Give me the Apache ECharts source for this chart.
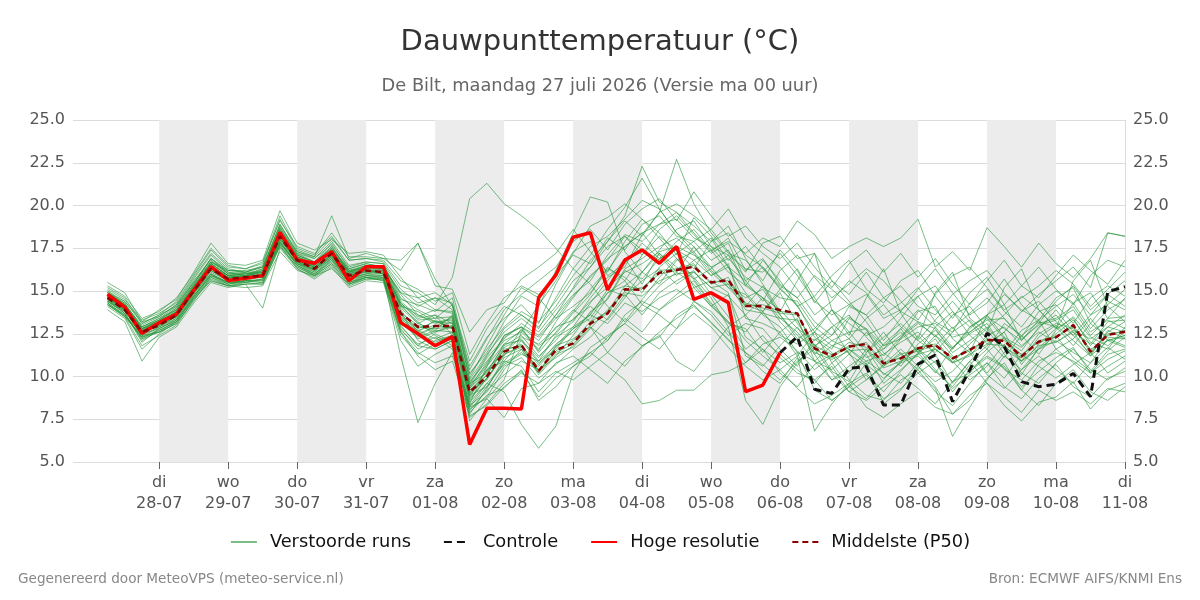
<!DOCTYPE html>
<html>
<head>
<meta charset="utf-8">
<title>Dauwpunttemperatuur</title>
<script src="https://cdn.jsdelivr.net/npm/echarts@6/dist/echarts.min.js"></script>
<style>
  html, body { margin: 0; padding: 0; background: #fff; }
  #chart { width: 1200px; height: 600px; }
</style>
</head>
<body>
<div id="chart"></div>
<script>
// uren na ma 27-07 00:00, elke 6 uur vanaf 06:00 t/m 11-08 00:00
const firstHour = 6
const stepHours = 6

const dayNames = ['di', 'wo', 'do', 'vr', 'za', 'zo', 'ma', 'di', 'wo', 'do', 'vr', 'za', 'zo', 'ma', 'di']
const dayDates = ['28-07', '29-07', '30-07', '31-07', '01-08', '02-08', '03-08', '04-08', '05-08', '06-08', '07-08', '08-08', '09-08', '10-08', '11-08']
const shadedDays = ['28-07', '30-07', '01-08', '03-08', '05-08', '07-08', '09-08']

const hogeResolutie = [14.8, 14.05, 12.53, 13.15, 13.65, 15.04, 16.42, 15.62, 15.75, 15.9, 18.42, 16.81, 16.62, 17.3, 15.6, 16.42, 16.42,
  13.15, 12.5, 11.8, 12.33, 6.03, 8.14, 8.14, 8.1, 14.61, 15.94, 18.14, 18.41, 15.06, 16.81, 17.4, 16.62, 17.6, 14.51, 14.9, 14.32, 9.11, 9.5, 11.39]

const controleStartHour = 240
const controle = [11.39, 12.33, 9.25, 9.01, 10.48, 10.58, 8.33, 8.33, 10.72, 11.26, 8.53, 10.38, 12.53, 11.75, 9.7, 9.4, 9.55, 10.18, 8.82, 14.96, 15.25]

const middelste = [14.6, 13.9, 12.6, 13.0, 13.6, 15.0, 16.3, 15.7, 15.8, 15.9, 18.2, 16.8, 16.3, 17.2, 15.9, 16.2, 16.1,
  13.7, 12.9, 12.95, 12.95, 9.1, 10.0, 11.45, 11.84, 10.34, 11.55, 11.94, 13.1, 13.69, 15.1, 15.06, 16.07, 16.23, 16.42,
  15.5, 15.64, 14.12, 14.12, 13.89, 13.69, 11.65, 11.2, 11.75, 11.9, 10.77, 11.06, 11.65, 11.84, 11.06, 11.55, 12.13, 12.09, 11.16, 12.04,
  12.29, 13.01, 11.45, 12.43, 12.62]

const run01 = [14.9,14.3,12.9,13.4,14.1,15.6,16.8,16.0,15.9,16.3,18.9,17.2,16.7,17.8,16.3,16.6,16.4, 14.8,13.6,13.1,13.4,8.6,9.9,11.2,12.8, 11.5,13.2,14.6,15.9,16.8,18.2,17.1,18.6,19.4,18.3, 17.2,17.8,15.6,16.4,15.1,14.2,12.3,11.6,13.4,12.8, 10.9,12.2,13.8,14.1,12.2,11.4,13.6,14.2,12.1,13.3, 14.6,15.2,13.1,14.4,13.9]
const run02 = [14.3,13.6,12.2,12.6,13.1,14.4,15.8,15.3,15.4,15.5,17.6,16.4,15.9,16.6,15.4,15.8,15.6, 12.4,11.3,11.9,12.2,7.6,8.4,9.6,10.3, 8.8,9.9,10.6,11.4,12.1,13.4,12.6,13.9,14.6,15.2, 14.1,14.8,12.3,11.6,10.8,11.4,9.2,8.6,9.4,10.1, 8.7,9.3,10.2,10.9,9.1,10.4,11.2,10.6,9.4,10.3, 11.1,11.7,10.2,11.0,11.5]
const run03 = [15.1,14.5,13.3,13.7,14.3,15.8,17.2,16.3,16.1,16.5,19.2,17.4,17.0,18.1,16.8,16.9,16.7, 15.3,14.9,14.2,15.8,20.4,21.3,20.1,19.4, 18.6,17.5,16.3,15.4,14.1,13.2,14.5,15.8,16.9,15.7, 14.3,13.2,12.6,13.8,14.9,13.1,11.8,12.4,13.5,12.7, 11.6,12.8,13.9,12.9,11.7,12.6,13.4,12.2,11.5,12.9, 13.6,12.4,11.3,12.6,13.2]
const run04 = [14.5,13.7,12.0,12.8,13.3,14.7,16.0,15.5,15.6,15.6,17.9,16.5,16.0,16.8,15.6,15.9,15.8, 11.2,7.3,9.6,11.4,8.1,8.8,10.4,11.6, 10.2,11.8,12.9,14.3,15.6,16.9,15.4,17.2,16.1,17.6, 16.4,15.2,14.1,15.3,13.6,12.4,11.7,12.9,11.3,10.6, 11.9,12.8,11.4,10.2,11.7,12.5,13.1,11.6,10.9,12.3, 13.0,12.1,11.2,12.7,12.2]
const run05 = [14.7,14.0,12.6,13.1,13.7,15.2,16.5,15.8,15.8,16.0,18.4,16.9,16.5,17.4,15.8,16.4,16.3, 13.4,12.6,12.0,12.4,7.4,8.7,9.8,12.6, 14.2,15.6,17.3,17.9,15.9,16.6,17.8,16.9,17.4,15.2, 15.6,14.9,11.2,10.6,11.8,12.9,11.3,9.8,10.2,11.6, 10.1,10.8,12.4,11.3,9.6,10.9,11.8,12.6,10.7,11.9, 12.8,13.4,11.8,12.9,13.6]
const run06 = [15.0,14.2,12.8,13.3,14.0,15.4,16.9,16.1,16.0,16.2,18.7,17.1,16.6,17.6,16.1,16.5,16.4, 14.2,13.1,12.7,13.6,9.4,10.8,12.3,12.9, 12.1,13.6,15.2,16.8,17.9,19.4,22.3,20.2,19.6,18.4, 17.3,18.1,16.2,16.9,15.4,14.6,13.2,12.4,14.1,13.6, 12.1,13.4,14.7,13.2,12.6,14.3,15.1,13.8,12.9,14.2, 15.0,14.3,12.8,13.9,14.5]
const run07 = [14.4,13.8,12.4,12.9,13.4,14.9,16.1,15.6,15.7,15.8,18.0,16.7,16.2,17.0,15.7,16.0,16.0, 13.3,12.2,12.6,12.9,9.2,10.1,11.7,12.2, 10.9,12.4,13.2,14.6,15.8,16.4,18.3,19.6,22.7,20.1, 18.4,17.2,16.8,15.6,17.4,16.2,14.3,15.6,14.4,13.2, 11.8,12.6,11.4,12.9,13.8,12.4,11.6,13.1,12.4,11.3, 12.7,13.5,12.3,11.8,12.6]
const run08 = [14.6,13.9,12.7,12.9,13.5,14.8,16.2,15.6,15.7,15.9,18.1,16.8,16.4,17.1,16.0,16.1,16.2, 13.9,12.6,13.3,12.8,8.9,9.4,10.9,10.6, 9.1,10.2,10.8,11.4,10.6,9.8,8.4,8.6,9.2,9.2, 10.1,10.3,10.8,11.9,12.3,11.5,10.4,11.2,12.0,11.7, 10.6,11.3,11.6,10.8,9.7,10.2,11.4,12.3,10.9,11.6, 12.4,11.1,10.3,11.5,12.3]
const run09 = [14.8,14.1,12.5,13.2,13.8,15.1,16.4,15.9,16.0,16.1,18.5,17.0,16.6,17.5,16.2,16.3,16.5, 14.5,14.2,13.8,14.6,10.2,11.4,13.2,14.7, 14.1,16.2,18.4,20.5,20.2,17.3,16.1,17.4,18.6,19.1, 17.6,16.4,14.2,13.8,15.1,16.3,14.6,13.1,12.2,13.4, 14.2,12.9,12.1,13.3,14.4,13.2,11.9,12.6,13.8,14.4, 13.2,12.4,13.6,14.8,14.1]
const run10 = [14.2,13.5,11.8,12.4,13.0,14.5,15.7,15.3,15.5,15.4,17.7,16.3,15.8,16.5,15.3,15.7,15.7, 12.6,11.4,10.8,11.2,8.3,9.6,9.1,7.2, 5.8,7.1,10.2,11.7,12.4,13.1,12.3,11.6,12.8,13.7, 12.9,11.7,10.6,9.8,10.4,11.2,12.6,10.8,9.4,8.7, 9.8,10.9,11.6,10.4,9.3,10.1,10.8,9.9,11.3,10.6, 9.9,10.7,11.4,10.2,10.9]
const run11 = [14.9,14.2,13.0,13.5,14.2,15.5,16.7,16.2,16.2,16.4,18.8,17.3,16.9,17.9,16.5,16.7,16.6, 14.6,13.9,13.4,14.2,9.8,11.3,12.6,13.4, 12.6,13.9,15.1,16.4,17.6,18.2,17.4,16.8,17.9,18.6, 17.4,17.9,17.2,18.1,17.6,19.1,18.3,16.9,17.6,18.1, 17.6,18.1,19.2,16.4,17.3,16.2,18.7,17.6,16.4,17.8, 16.6,15.8,16.9,18.4,18.2]
const run12 = [14.3,13.6,12.3,12.7,13.2,14.6,15.9,15.5,15.6,15.7,17.8,16.6,16.1,16.9,15.5,15.9,15.8, 12.8,11.6,12.1,12.4,8.3,9.1,10.6,11.1, 9.9,10.7,11.6,12.3,13.4,14.8,13.6,14.9,15.6,16.2, 14.8,13.5,12.1,11.2,10.4,9.3,8.4,8.9,9.6,8.2, 7.6,8.4,9.1,8.2,7.8,8.9,9.6,8.3,7.4,8.5, 8.8,9.7,8.1,9.2,9.6]
const run13 = [15.2,14.6,13.1,13.6,14.4,15.9,17.4,16.4,16.3,16.6,19.4,17.5,17.1,18.4,17.0,17.0,16.9, 16.2,17.8,15.7,14.1,10.6,12.3,13.4,14.2, 13.1,15.4,17.2,18.8,19.3,20.1,19.2,18.1,16.9,15.8, 14.6,12.9,8.6,7.2,9.4,10.8,11.9,10.3,9.7,11.4, 12.6,11.3,10.4,11.8,12.9,11.6,10.2,11.4,12.7,13.3, 11.6,12.2,13.4,12.1,11.7]
const run14 = [14.5,13.8,12.6,13.0,13.5,15.0,16.3,15.7,15.8,15.8,18.1,16.8,16.3,17.2,15.9,16.2,16.1, 13.6,12.9,12.8,12.9,9.0,10.4,11.5,11.9, 10.3,11.5,12.1,13.2,13.8,15.3,15.1,16.2,16.3,16.6, 15.4,15.8,14.1,14.2,13.8,13.7,11.6,11.1,11.8,11.9, 10.7,11.1,11.7,11.9,11.0,11.6,12.1,12.2,11.2,12.1, 12.3,13.0,11.5,12.4,12.7]
const run15 = [14.7,14.0,12.4,13.1,13.8,15.3,16.6,15.9,16.0,16.0,18.3,16.9,16.4,17.3,16.1,16.3,16.2, 13.8,12.1,11.6,12.1,7.8,9.3,11.1,11.6, 10.1,11.2,12.4,13.8,14.5,16.2,15.7,16.9,17.4,16.8, 15.9,16.6,13.4,13.1,12.6,11.2,6.8,8.4,9.6,10.2, 9.1,10.3,11.4,12.2,10.8,11.9,12.8,11.3,10.1,11.7, 12.5,13.3,12.0,11.6,12.9]
const run16 = [15.0,14.4,13.2,13.5,14.2,15.7,17.1,16.2,16.1,16.4,18.9,17.3,17.0,19.4,16.9,17.2,16.9, 16.8,17.8,15.3,15.1,12.6,13.9,14.3,15.7, 16.4,17.2,18.6,17.3,16.1,17.9,19.2,18.4,17.1,19.3, 18.2,16.8,17.6,16.3,15.2,14.1,14.7,15.9,16.8,15.1, 14.3,15.6,16.2,14.7,13.4,14.9,15.8,14.2,15.3,16.4, 15.1,14.2,15.9,16.8,16.4]
const run17 = [14.4,13.9,12.7,13.2,13.6,14.9,16.0,15.4,15.6,15.9,17.9,16.6,16.3,17.0,15.8,16.0,16.2, 14.1,13.2,12.4,11.8,8.4,10.6,12.4,12.9, 11.4,12.6,13.8,15.1,16.3,15.8,14.9,16.4,17.2,17.9, 16.8,17.4,15.3,14.6,13.2,12.1,10.9,10.4,11.3,12.6, 11.4,10.6,11.9,12.7,11.6,12.8,13.6,12.3,11.7,12.8, 13.9,12.6,11.9,13.2,13.3]
const run18 = [14.6,14.1,12.9,13.3,13.7,15.1,16.5,15.8,15.9,16.0,18.3,16.9,16.4,17.3,16.0,16.3,16.3, 14.3,13.4,13.6,13.1,9.6,10.2,11.9,12.1, 10.8,11.6,12.8,13.4,14.9,15.3,16.1,15.4,16.8,17.3, 16.1,15.2,14.8,13.6,12.9,11.4,10.9,11.8,11.4,9.8, 10.6,11.4,10.2,9.3,6.5,8.2,9.8,11.2,10.4,11.6, 12.1,11.4,10.8,12.2,11.8]
const run19 = [14.8,14.3,12.8,13.2,13.9,15.2,16.6,15.9,15.8,16.2,18.6,17.1,16.7,17.6,16.2,16.5,16.4, 14.9,14.1,14.6,14.3,9.9,11.8,13.6,15.2, 14.6,13.4,14.1,14.9,16.2,17.6,18.4,17.1,15.9,16.8, 17.4,16.1,15.3,16.8,15.6,14.1,12.6,13.9,13.1,12.4, 12.9,13.8,13.2,12.3,13.6,14.1,12.8,13.6,14.7,13.9, 12.8,14.3,14.9,13.4,14.6]
const run20 = [13.9,13.2,10.9,12.3,12.9,14.3,15.5,15.2,15.4,14.0,17.5,16.3,15.7,16.4,15.2,15.6,15.5, 12.1,10.6,11.3,11.8,7.9,8.9,9.3,10.4, 8.6,9.4,10.6,11.2,12.3,13.1,14.2,13.6,12.8,14.4, 13.6,12.4,13.1,12.8,11.6,10.6,12.2,11.4,10.3,10.9, 10.2,9.6,10.8,11.6,10.9,9.8,10.6,11.9,10.2,9.6, 10.8,11.6,10.4,9.8,10.5]
const run21 = [15.5,14.9,13.2,13.9,14.5,16.1,17.8,16.6,16.5,16.8,19.7,17.8,17.4,18.0,17.2,17.3,17.1, 15.8,14.6,14.9,14.2,10.9,12.8,14.1,13.6, 12.8,14.6,16.3,17.6,18.2,19.2,20.3,19.8,18.4,17.3, 18.1,16.4,15.6,14.4,16.2,17.1,15.8,14.6,15.4,16.3, 15.6,14.4,13.3,14.8,15.9,16.4,15.2,13.9,14.6,15.3, 16.2,15.4,14.1,15.1,16.1]
const run22 = [14.1,13.4,11.6,12.5,13.2,14.6,15.6,15.3,15.2,15.3,17.3,16.2,15.9,16.3,15.4,15.7,15.7, 12.9,11.9,12.3,11.6,8.2,8.7,7.6,9.3, 9.6,10.3,9.8,10.6,11.4,12.6,11.8,12.3,13.6,14.2, 13.1,12.2,10.8,11.6,10.2,9.4,10.7,11.3,9.8,8.9, 8.6,9.8,10.4,9.1,8.3,9.6,10.8,9.4,8.7,9.9, 10.7,9.4,8.8,9.9,10.3]
const run23 = [14.6,14.0,12.5,13.0,13.7,15.0,16.4,15.7,15.9,15.9,18.2,16.8,16.4,17.1,15.9,16.2,16.0, 13.3,12.4,12.9,13.2,9.3,10.3,11.8,12.4, 11.2,12.1,13.4,14.1,13.3,14.6,16.1,17.2,16.4,15.7, 16.3,17.1,15.4,14.6,13.9,12.8,12.1,12.9,13.6,12.3, 11.2,12.3,13.1,12.4,11.6,12.9,13.5,12.8,12.1,13.1, 13.4,14.1,12.6,13.3,12.8]
const run24 = [14.9,14.2,12.7,13.3,14.0,15.4,16.9,16.0,16.0,16.3,18.6,17.1,16.7,17.5,16.3,16.6,16.4, 14.9,14.6,13.9,13.7,10.1,11.6,12.9,13.8, 13.2,14.4,15.9,17.1,18.6,19.9,21.6,19.8,18.4,17.6, 16.2,15.4,14.6,15.1,13.6,12.2,12.8,13.9,12.6,11.4, 12.3,13.1,12.1,11.4,12.6,13.3,12.2,11.1,12.4,13.2, 12.9,11.8,13.1,12.3,12.2]
const run25 = [14.4,13.7,12.2,12.8,13.4,14.8,16.0,15.5,15.6,15.6,17.8,16.6,16.2,16.9,15.7,16.0,15.9, 13.2,12.7,12.2,12.6,8.7,9.9,11.3,11.8, 10.7,11.9,12.6,13.7,14.9,15.6,14.2,15.3,16.1,15.4, 14.1,13.2,11.6,12.4,11.1,10.2,9.8,10.6,9.1,8.6, 9.4,10.1,9.3,8.4,9.7,10.9,9.6,8.8,7.9,9.2, 8.6,9.1,8.4,9.3,9.1]
const run26 = [14.7,13.8,12.6,13.1,13.5,15.1,16.2,15.6,15.8,15.8,18.0,16.7,16.1,17.3,15.8,16.3,16.0, 13.5,12.8,13.2,13.1,9.1,9.8,11.4,12.3, 11.9,12.8,13.9,13.2,14.6,16.3,16.9,17.6,18.1,17.2, 15.9,16.4,14.9,13.8,12.4,11.9,12.6,11.8,12.2,11.1, 11.6,12.4,13.2,12.8,11.4,12.1,12.9,11.7,11.1,12.5, 13.1,12.8,11.6,12.1,12.4]
const run27 = [14.5,14.0,12.8,13.2,13.8,15.2,16.6,15.9,15.7,16.0,18.3,16.7,16.5,17.3,16.1,16.1,16.3, 14.0,13.1,13.6,12.4,8.8,10.4,10.9,12.1, 11.1,12.3,12.9,13.6,15.1,14.7,15.6,16.3,15.4,16.1, 15.2,14.7,13.6,14.6,13.4,12.6,11.3,12.1,11.6,10.9, 11.3,12.0,12.6,11.6,10.8,11.2,12.4,12.9,11.8,12.6, 12.0,12.7,12.2,12.9,12.6]
const run28 = [14.3,13.5,12.4,12.6,13.3,14.7,15.9,15.5,15.5,15.7,17.7,16.5,16.0,16.7,15.5,15.8,15.8, 13.0,11.8,12.5,12.0,8.0,9.2,10.1,10.9, 10.4,11.1,11.8,12.9,11.4,10.6,11.8,12.4,10.9,10.3, 11.6,12.9,13.6,12.1,11.3,10.4,9.6,10.8,11.6,10.7, 9.9,10.8,11.2,10.3,9.4,10.7,11.6,10.4,9.8,10.9, 11.4,10.9,10.2,11.3,11.6]
const run29 = [14.8,14.1,12.9,13.4,13.9,15.3,16.7,16.1,15.9,16.2,18.5,17.0,16.6,17.4,16.2,16.4,16.5, 14.4,13.5,13.9,13.8,9.5,11.1,12.2,13.1, 12.4,13.6,14.8,15.6,17.1,18.3,17.9,18.9,19.6,18.8, 17.9,18.4,17.1,16.4,15.3,14.6,15.9,15.1,14.2,13.6, 14.6,15.3,14.1,13.6,14.8,15.6,16.2,14.9,13.8,14.8, 15.6,16.4,15.2,18.4,18.2]
const run30 = [14.6,13.9,12.3,12.9,13.6,15.1,16.3,15.8,15.8,15.8,18.2,16.8,16.3,17.1,15.9,16.2,16.1, 13.7,13.0,12.6,13.0,9.0,9.9,11.3,11.7, 10.4,11.4,11.9,13.0,13.7,15.0,15.2,16.0,16.2,16.5, 15.5,15.6,14.3,14.0,13.7,13.6,11.8,11.3,11.7,12.0, 10.8,11.1,11.5,11.8,11.1,11.5,12.2,12.1,11.3,12.0, 12.3,12.9,11.4,12.5,12.6]
const run31 = [14.9,14.4,13.1,13.6,14.1,15.5,16.9,16.2,16.1,16.4,18.7,17.2,16.9,17.7,16.4,16.7,16.6, 15.1,14.3,14.6,13.9,10.4,12.2,13.9,14.8, 15.6,16.4,17.9,18.6,17.4,18.9,19.8,20.4,19.1,20.8, 19.4,18.2,18.8,17.6,16.9,17.8,16.4,15.2,16.6,17.4, 16.1,17.2,15.8,16.9,15.4,14.2,15.6,16.8,15.3,14.6, 15.9,17.1,16.2,15.4,16.8]
const run32 = [14.2,13.6,12.5,12.8,13.3,14.7,15.9,15.4,15.5,15.7,17.9,16.6,16.0,16.9,15.7,15.9,15.9, 13.1,12.3,12.7,12.6,8.5,9.6,10.7,11.3, 10.9,11.8,12.2,12.9,12.1,13.6,14.4,13.9,14.8,15.6, 14.2,13.1,12.8,11.4,12.6,13.4,10.9,9.8,10.6,11.3, 9.6,10.4,11.3,12.4,11.2,10.3,11.1,10.5,9.2,10.7, 11.6,10.8,9.9,10.6,11.2]
const run33 = [14.7,14.2,12.8,13.3,13.9,15.3,16.7,16.0,16.1,16.1,18.4,17.0,16.5,17.4,16.1,16.5,16.4, 14.1,13.8,13.2,12.9,9.6,11.2,12.8,13.6, 12.9,14.1,15.6,16.4,17.9,19.1,18.2,19.6,20.1,19.4, 18.6,19.8,18.1,17.2,16.4,15.1,13.6,14.4,15.6,14.9, 13.6,14.3,15.2,13.9,12.8,13.7,14.6,13.4,12.3,13.8, 14.2,13.1,14.6,15.3,14.7]
const run34 = [14.4,13.7,12.1,12.7,13.2,14.6,15.8,15.4,15.6,15.5,17.8,16.5,15.9,16.8,15.5,15.8,15.7, 12.6,11.2,10.4,10.9,7.7,8.3,9.4,10.2, 9.6,10.8,11.2,10.4,9.6,10.9,11.7,12.6,13.4,14.1, 13.2,12.1,11.4,10.7,9.8,10.9,11.6,10.2,9.1,9.8, 10.7,11.6,10.6,9.7,10.3,11.4,10.1,9.3,10.4,11.2, 10.4,9.6,10.8,11.7,11.0]
const run35 = [14.8,14.0,12.7,13.1,13.8,15.2,16.5,15.8,15.9,16.1,18.4,16.9,16.5,17.3,16.0,16.4,16.3, 14.3,13.3,13.4,13.5,9.7,10.9,12.1,12.6, 11.6,12.9,13.3,14.4,15.2,16.1,16.6,17.3,17.6,17.1, 16.4,16.9,15.8,15.2,14.6,14.4,12.9,12.1,12.6,12.8, 11.8,12.2,12.9,13.1,12.3,12.6,13.3,13.4,12.2,13.0, 13.3,13.9,12.4,13.4,13.5]
const run36 = [14.5,13.9,12.5,13.1,13.5,14.9,16.2,15.7,15.7,15.9,18.1,16.8,16.2,17.0,15.8,16.1,16.0, 13.4,12.5,12.9,13.5,9.3,10.6,11.9,12.7, 11.8,12.5,13.7,14.8,16.4,15.6,17.1,18.2,17.4,16.3, 17.9,18.8,16.9,15.4,13.8,15.6,17.2,13.9,12.4,14.6, 16.3,13.7,12.2,14.9,16.1,13.4,12.6,15.2,16.3,13.9, 12.8,15.6,16.8,14.1,13.2]
const run37 = [14.2,13.5,12.3,12.6,13.1,14.5,15.6,15.3,15.4,15.4,17.6,16.4,15.9,16.6,15.4,15.8,15.6, 12.7,11.8,11.6,12.1,8.2,9.4,10.8,11.4, 10.6,11.7,12.8,13.6,13.1,14.3,13.8,14.6,15.1,14.4, 13.8,12.6,11.4,10.3,9.6,11.1,9.8,8.6,9.4,10.8, 8.4,9.2,10.6,9.4,7.8,8.6,9.9,10.8,9.2,8.3, 9.6,10.4,9.1,8.6,9.4]
const run38 = [15.3,14.7,13.4,13.8,14.6,16.0,17.5,16.5,16.3,16.7,19.1,17.6,17.2,18.2,16.8,16.9,16.8, 15.6,15.1,14.4,14.9,11.3,13.1,14.6,15.3, 14.8,15.9,17.1,16.6,18.1,17.4,18.9,19.4,18.2,17.9, 18.6,17.3,16.1,17.8,18.2,16.9,17.2,15.6,14.8,16.1, 14.6,13.8,15.1,16.3,14.9,13.6,14.3,15.7,14.2,13.1, 14.4,15.3,13.9,14.8,15.6]
const run39 = [14.6,14.0,12.8,13.0,13.5,14.9,16.3,15.6,15.8,15.8,18.1,16.7,16.3,17.1,15.8,16.2,16.1, 13.5,12.7,13.0,12.8,8.9,10.1,11.6,11.8, 10.2,11.3,11.7,12.8,13.9,14.9,14.7,15.6,16.0,16.1, 15.2,15.4,13.9,13.7,13.4,13.3,11.4,11.0,11.5,11.6, 10.5,10.9,11.3,11.6,10.8,11.3,11.9,11.8,10.9,11.8, 12.0,12.6,11.2,12.1,12.4]
const run40 = [14.7,14.1,12.6,13.2,13.7,15.2,16.6,15.9,15.9,16.1,18.4,17.0,16.5,17.4,16.1,16.4,16.3, 14.2,13.6,13.2,13.3,9.4,10.7,12.4,12.9, 12.3,13.4,14.7,15.8,16.9,17.6,18.4,18.9,19.2,18.1, 17.6,17.1,16.3,16.1,17.2,15.9,14.4,13.6,14.2,14.8, 13.4,13.9,14.7,15.3,13.8,12.9,13.6,14.8,13.9,13.3, 14.1,14.8,13.6,14.2,15.1]

const verstoordeRuns = [run01, run02, run03, run04, run05, run06, run07, run08, run09, run10,
  run11, run12, run13, run14, run15, run16, run17, run18, run19, run20,
  run21, run22, run23, run24, run25, run26, run27, run28, run29, run30,
  run31, run32, run33, run34, run35, run36, run37, run38, run39, run40]

const font = 'DejaVu Sans, Noto Sans, sans-serif'
const runColor = 'rgba(40,150,60,0.62)'

function toPairs(values, startHour) {
  return values.map((v, i) => [startHour + i * stepHours, v])
}

const dayHours = dayDates.map((d, i) => 24 * (i + 1))
const bands = shadedDays.map((d) => {
  const h = dayHours[dayDates.indexOf(d)]
  return [{ xAxis: h }, { xAxis: h + 24 }]
})

const chart = echarts.init(document.getElementById('chart'))

const series = [
  {
    name: 'bands',
    type: 'line',
    data: [],
    silent: true,
    z: 1,
    markArea: {
      silent: true,
      itemStyle: { color: '#ececec' },
      data: bands
    }
  }
]

verstoordeRuns.forEach((run) => {
  series.push({
    name: 'Verstoorde runs',
    type: 'line',
    data: toPairs(run, firstHour),
    symbol: 'none',
    silent: true,
    z: 2,
    lineStyle: { width: 1, color: runColor },
    itemStyle: { color: runColor }
  })
})

series.push(
  {
    name: 'Controle',
    type: 'line',
    data: toPairs(controle, controleStartHour),
    symbol: 'none',
    z: 3,
    lineStyle: { width: 3, color: '#111', type: [8, 5] },
    itemStyle: { color: '#111' }
  },
  {
    name: 'Hoge resolutie',
    type: 'line',
    data: toPairs(hogeResolutie, firstHour),
    symbol: 'none',
    z: 4,
    lineStyle: { width: 3.5, color: '#ff0000' },
    itemStyle: { color: '#ff0000' }
  },
  {
    name: 'Middelste (P50)',
    type: 'line',
    data: toPairs(middelste, firstHour),
    symbol: 'none',
    z: 5,
    lineStyle: { width: 2.5, color: '#8b0000', type: [6, 4] },
    itemStyle: { color: '#8b0000' }
  }
)

const yAxisBase = {
  type: 'value',
  min: 5,
  max: 25,
  interval: 2.5,
  axisTick: { show: false },
  axisLabel: {
    color: '#555',
    fontSize: 16,
    fontFamily: font,
    margin: 8,
    formatter: (v) => v.toFixed(1)
  }
}

chart.setOption({
  animation: false,
  textStyle: { fontFamily: font },
  title: [
    {
      text: 'Dauwpunttemperatuur (°C)',
      left: 'center',
      top: 23,
      textStyle: { fontSize: 29, fontWeight: 'normal', color: '#333', fontFamily: font }
    },
    {
      text: 'De Bilt, maandag 27 juli 2026 (Versie ma 00 uur)',
      left: 'center',
      top: 72,
      textStyle: { fontSize: 17.8, fontWeight: 'normal', color: '#666', fontFamily: font }
    }
  ],
  grid: { left: 73, right: 75, top: 120, bottom: 138 },
  legend: {
    data: ['Verstoorde runs', 'Controle', 'Hoge resolutie', 'Middelste (P50)'],
    top: 528,
    left: 'center',
    itemWidth: 26,
    itemHeight: 14,
    itemGap: 32,
    itemStyle: { opacity: 0 },
    textStyle: { fontSize: 17.8, color: '#111', fontFamily: font, padding: [0, 0, 0, 8] }
  },
  xAxis: {
    type: 'value',
    min: -6,
    max: 360,
    axisLine: { show: false },
    splitLine: { show: false },
    axisTick: {
      show: true,
      customValues: dayHours,
      length: 7,
      lineStyle: { color: '#666', width: 1 }
    },
    axisLabel: {
      customValues: dayHours,
      color: '#555',
      fontSize: 16,
      fontFamily: font,
      margin: 10,
      lineHeight: 21,
      formatter: (v) => {
        const i = dayHours.indexOf(v)
        return i < 0 ? '' : dayNames[i] + '\n' + dayDates[i]
      }
    }
  },
  yAxis: [
    Object.assign({}, yAxisBase, {
      position: 'left',
      axisLine: { show: false },
      splitLine: { show: true, lineStyle: { color: '#dcdcdc', width: 1 } }
    }),
    Object.assign({}, yAxisBase, {
      position: 'right',
      axisLine: { show: true, lineStyle: { color: '#dcdcdc', width: 1 } },
      splitLine: { show: false }
    })
  ],
  graphic: [
    {
      type: 'text',
      left: 18,
      top: 572,
      style: { text: 'Gegenereerd door MeteoVPS (meteo-service.nl)', fontSize: 13.6, fill: '#888', fontFamily: font }
    },
    {
      type: 'text',
      right: 18,
      top: 572,
      style: { text: 'Bron: ECMWF AIFS/KNMI Ens', fontSize: 13.6, fill: '#888', fontFamily: font }
    }
  ],
  series: series
})
</script>
</body>
</html>
